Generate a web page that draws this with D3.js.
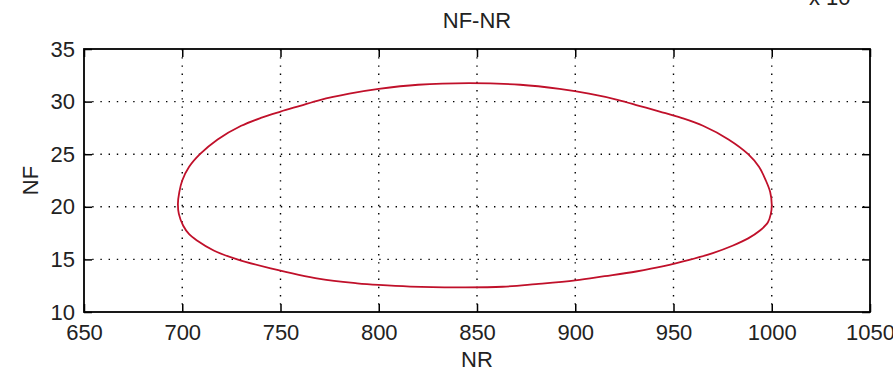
<!DOCTYPE html>
<html>
<head>
<meta charset="utf-8">
<script src="https://cdn.jsdelivr.net/npm/d3@7"></script>
<style>
  body { margin: 0; background: #fff; }
  text { font-family: "Liberation Sans", Arial, sans-serif; fill: #222; }
</style>
</head>
<body>
<script>
// tick values
const nrTicks = [650, 700, 750, 800, 850, 900, 950, 1000, 1050]
const nfTicks = [10, 15, 20, 25, 30, 35]

// closed curve (left point, over the top, back under)
const curveNR = [697.8, 698.5, 700, 703.5, 709, 718, 730, 740, 750, 760, 770, 785, 800, 820, 846, 872, 892, 907, 922, 932.5, 943, 954, 965, 978, 988, 993.5, 997, 999.2, 1000,
  999.5, 998, 994, 988, 980, 970, 958, 945, 931, 915, 900, 880, 863, 840, 816, 800, 789, 770, 745, 728, 716, 707.5, 703.5, 700.5, 698.3]
const curveNF = [20.3, 21.4, 22.5, 23.8, 25.0, 26.4, 27.7, 28.45, 29.05, 29.6, 30.15, 30.75, 31.2, 31.6, 31.75, 31.6, 31.2, 30.75, 30.15, 29.6, 29.05, 28.45, 27.7, 26.4, 25.0, 23.8, 22.5, 21.4, 20.2,
  19.3, 18.5, 17.75, 17.0, 16.3, 15.6, 14.95, 14.35, 13.85, 13.4, 13.0, 12.65, 12.4, 12.35, 12.42, 12.57, 12.73, 13.15, 14.15, 15.0, 15.85, 16.8, 17.4, 18.2, 19.3]

const width = 893
const height = 373
const margin = { top: 49, right: 23, bottom: 61, left: 84 }
const innerWidth = width - margin.left - margin.right
const innerHeight = height - margin.top - margin.bottom

const svg = d3.select('body').append('svg')
  .attr('width', width)
  .attr('height', height)

const g = svg.append('g')
  .attr('transform', `translate(${margin.left},${margin.top})`)

const x = d3.scaleLinear().domain([650, 1050]).range([0, innerWidth])
const y = d3.scaleLinear().domain([10, 35]).range([innerHeight, 0])

// dotted grid
g.append('g').selectAll('line')
  .data(nrTicks.slice(1, -1))
  .enter().append('line')
    .attr('x1', d => x(d)).attr('x2', d => x(d))
    .attr('y1', 0).attr('y2', innerHeight)
    .attr('stroke', '#000').attr('stroke-width', 1.4)
    .attr('stroke-dasharray', '1.4,6.8')
g.append('g').selectAll('line')
  .data(nfTicks.slice(1, -1))
  .enter().append('line')
    .attr('y1', d => y(d)).attr('y2', d => y(d))
    .attr('x1', 0).attr('x2', innerWidth)
    .attr('stroke', '#000').attr('stroke-width', 1.4)
    .attr('stroke-dasharray', '1.4,6.8')

// the curve
const pts = curveNR.map((v, i) => [v, curveNF[i]])
const line = d3.line()
  .x(d => x(d[0]))
  .y(d => y(d[1]))
  .curve(d3.curveCatmullRomClosed.alpha(0.5))
g.append('path')
  .attr('d', line(pts))
  .attr('fill', 'none')
  .attr('stroke', '#c0102a')
  .attr('stroke-width', 1.8)

// axes, ticks inward on every side
const tickLen = 8
const fmt = d3.format('d')
const styleAxis = sel => {
  sel.selectAll('.domain').remove()
  sel.selectAll('.tick line').attr('stroke', '#000').attr('stroke-width', 1.5)
  sel.selectAll('.tick text').attr('font-size', 22).attr('fill', '#222')
}
g.append('g')
  .attr('transform', `translate(0,${innerHeight})`)
  .call(d3.axisBottom(x).tickValues(nrTicks).tickFormat(fmt).tickSizeInner(-tickLen).tickSizeOuter(0).tickPadding(12))
  .call(styleAxis)
g.append('g')
  .call(d3.axisTop(x).tickValues(nrTicks).tickSizeInner(-tickLen).tickSizeOuter(0).tickFormat(''))
  .call(styleAxis)
g.append('g')
  .call(d3.axisLeft(y).tickValues(nfTicks).tickFormat(fmt).tickSizeInner(-tickLen).tickSizeOuter(0).tickPadding(9))
  .call(styleAxis)
g.append('g')
  .attr('transform', `translate(${innerWidth},0)`)
  .call(d3.axisRight(y).tickValues(nfTicks).tickSizeInner(-tickLen).tickSizeOuter(0).tickFormat(''))
  .call(styleAxis)

// box
g.append('rect')
  .attr('width', innerWidth).attr('height', innerHeight)
  .attr('fill', 'none').attr('stroke', '#000').attr('stroke-width', 1.8)

// labels
g.append('text')
  .text('NF-NR')
  .attr('text-anchor', 'middle')
  .attr('x', innerWidth / 2)
  .attr('y', -21)
  .attr('font-size', 22)
g.append('text')
  .text('NR')
  .attr('text-anchor', 'middle')
  .attr('x', innerWidth / 2)
  .attr('y', innerHeight + 55)
  .attr('font-size', 22)
g.append('text')
  .text('NF')
  .attr('text-anchor', 'middle')
  .attr('transform', `translate(${-46},${innerHeight / 2}) rotate(-90)`)
  .attr('font-size', 22)

// exponent label, mostly above the window
svg.append('text')
  .attr('x', 809).attr('y', 5)
  .attr('font-size', 22)
  .text('x 10')
  .append('tspan').attr('dy', -12).attr('font-size', 16).text('4')
</script>
</body>
</html>
